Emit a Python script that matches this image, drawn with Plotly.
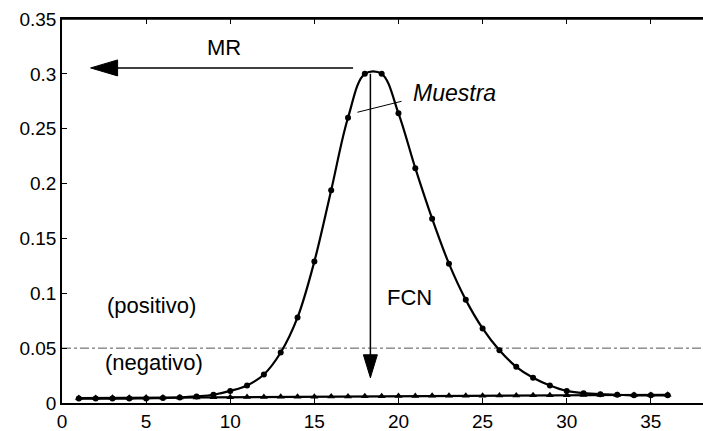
import plotly.graph_objects as go

# ---- data ----
muestras = list(range(1, 37))
fcn_values = [0.004, 0.004, 0.004, 0.004, 0.0042, 0.0045, 0.005, 0.006, 0.0075, 0.011,
              0.016, 0.026, 0.046, 0.078, 0.129, 0.194, 0.260, 0.300, 0.300, 0.264,
              0.214, 0.168, 0.127, 0.094, 0.068, 0.048, 0.033, 0.023, 0.016, 0.011,
              0.009, 0.008, 0.0075, 0.007, 0.007, 0.007]
base_values = [0.0045, 0.0046, 0.0047, 0.0048, 0.0049, 0.005, 0.005, 0.0051, 0.0052, 0.0053,
               0.0054, 0.0055, 0.0056, 0.0057, 0.0058, 0.0059, 0.006, 0.0061, 0.0062, 0.0063,
               0.0064, 0.0065, 0.0066, 0.0067, 0.0067, 0.0068, 0.0069, 0.007, 0.007, 0.0071,
               0.0072, 0.0072, 0.0073, 0.0073, 0.0074, 0.0075]
umbral = 0.05
x_ticks = [0, 5, 10, 15, 20, 25, 30, 35]
y_ticks = [0, 0.05, 0.1, 0.15, 0.2, 0.25, 0.3, 0.35]
y_tick_labels = ["0", "0.05", "0.1", "0.15", "0.2", "0.25", "0.3", "0.35"]

# annotation anchors (data units)
mr_tail = (17.3, 0.3054)
mr_tip = (1.7, 0.3054)
fcn_tail = (18.33, 0.300)
fcn_tip = (18.33, 0.023)
muestra_line = [(17.56, 0.265), (20.18, 0.275)]

# ---- geometry ----
W, H = 703, 431
ML, MR_, MT, MB = 62, 0, 19, 28
X_RANGE = [0, 38.1]
Y_RANGE = [0, 0.35]
px_x = (W - ML - MR_) / (X_RANGE[1] - X_RANGE[0])
px_y = (H - MT - MB) / (Y_RANGE[1] - Y_RANGE[0])

FONT = "Liberation Sans, Arial, sans-serif"

fig = go.Figure()

fig.add_trace(go.Scatter(x=[X_RANGE[0], X_RANGE[1]], y=[umbral, umbral], mode="lines",
                         line=dict(color="#555555", width=1, dash="dashdot"),
                         hoverinfo="skip", showlegend=False))
fig.add_trace(go.Scatter(x=muestras, y=base_values, mode="lines+markers",
                         line=dict(color="black", width=2.2),
                         marker=dict(symbol="triangle-up", size=7, color="black"),
                         showlegend=False))
fig.add_trace(go.Scatter(x=muestras, y=fcn_values, mode="lines+markers",
                         line=dict(color="black", width=2.2, shape="spline", smoothing=1.0),
                         marker=dict(symbol="circle", size=6, color="black"),
                         showlegend=False))

shapes = []
# MR arrow (horizontal, pointing left)
hl, hw = 27 / px_x, 8 / px_y
shapes.append(dict(type="line", x0=mr_tail[0], y0=mr_tail[1], x1=mr_tip[0] + hl * 0.8, y1=mr_tip[1],
                   line=dict(color="black", width=1.5)))
shapes.append(dict(type="path",
                   path=f"M {mr_tip[0]},{mr_tip[1]} L {mr_tip[0]+hl},{mr_tip[1]+hw} L {mr_tip[0]+hl},{mr_tip[1]-hw} Z",
                   fillcolor="black", line=dict(color="black", width=1)))
# FCN arrow (vertical, pointing down)
vl, vw = 23 / px_y, 7 / px_x
shapes.append(dict(type="line", x0=fcn_tail[0], y0=fcn_tail[1], x1=fcn_tip[0], y1=fcn_tip[1] + vl * 0.8,
                   line=dict(color="black", width=1.5)))
shapes.append(dict(type="path",
                   path=f"M {fcn_tip[0]},{fcn_tip[1]} L {fcn_tip[0]-vw},{fcn_tip[1]+vl} L {fcn_tip[0]+vw},{fcn_tip[1]+vl} Z",
                   fillcolor="black", line=dict(color="black", width=1)))
# Muestra pointer
shapes.append(dict(type="line", x0=muestra_line[0][0], y0=muestra_line[0][1],
                   x1=muestra_line[1][0], y1=muestra_line[1][1],
                   line=dict(color="black", width=1)))
# top border
shapes.append(dict(type="line", xref="paper", yref="paper", x0=0, x1=1, y0=1, y1=1,
                   line=dict(color="black", width=1.5)))

annotations = [
    dict(x=9.64, y=0.3236, text="MR"),
    dict(x=20.65, y=0.0966, text="FCN"),
    dict(x=5.3, y=0.089, text="(positivo)"),
    dict(x=5.48, y=0.0365, text="(negativo)"),
    dict(x=20.77, y=0.283, text="<i>Muestra</i>", xanchor="left", size=23),
]
for a in annotations:
    a.setdefault("xanchor", "center")
    size = a.pop("size", 22)
    a.update(showarrow=False, yanchor="middle", font=dict(family=FONT, size=size, color="black"))

fig.update_layout(
    width=W, height=H,
    margin=dict(l=ML, r=MR_, t=MT, b=MB, pad=0),
    paper_bgcolor="white", plot_bgcolor="white",
    shapes=shapes, annotations=annotations,
    font=dict(family=FONT, size=18, color="black"),
    xaxis=dict(range=X_RANGE, tickvals=x_ticks, showgrid=False, zeroline=False,
               showline=True, linecolor="black", linewidth=1.5, mirror="ticks",
               ticks="inside", ticklen=5, tickcolor="black",
               tickfont=dict(family=FONT, size=19, color="black")),
    yaxis=dict(range=Y_RANGE, tickvals=y_ticks, ticktext=y_tick_labels, showgrid=False,
               zeroline=False, showline=True, linecolor="black", linewidth=1.5,
               ticks="inside", ticklen=5, tickcolor="black",
               tickfont=dict(family=FONT, size=19, color="black")),
)

fig.write_html("out.html", config={"displayModeBar": False},
               post_script="document.body.style.margin='0';document.body.style.overflow='hidden';")
